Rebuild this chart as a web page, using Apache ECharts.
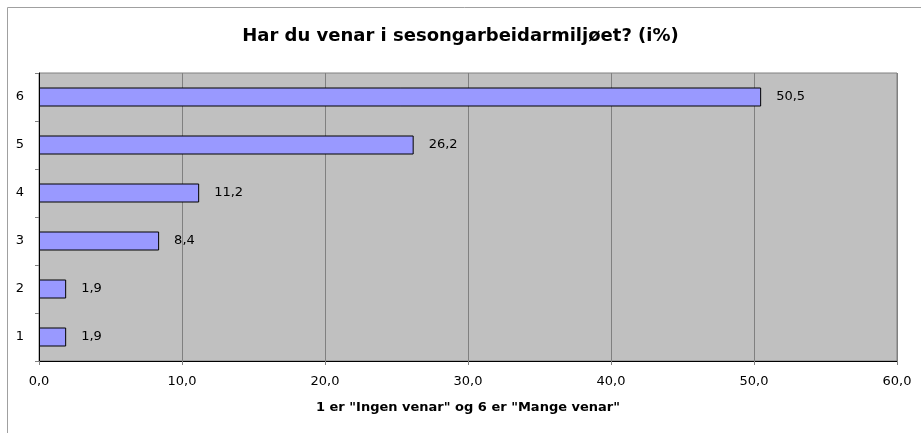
<!DOCTYPE html>
<html>
<head>
<meta charset="utf-8">
<script src="https://cdn.jsdelivr.net/npm/echarts@6/dist/echarts.min.js"></script>
<style>
  html, body { margin: 0; padding: 0; background: #fff; }
  #chart { width: 921px; height: 433px; }
</style>
</head>
<body>
<div id="chart"></div>
<script>
var categories = ['1', '2', '3', '4', '5', '6'];
var values = [1.9, 1.9, 8.4, 11.2, 26.2, 50.5];

var font = 'DejaVu Sans, Verdana, sans-serif';

function comma(v) {
  return v.toFixed(1).replace('.', ',');
}

var chart = echarts.init(document.getElementById('chart'));
var option = {
  animation: false,
  title: {
    text: 'Har du venar i sesongarbeidarmiljøet? (i%)',
    left: 'center',
    top: 22,
    textStyle: { fontFamily: font, fontSize: 18, fontWeight: 'bold', color: '#000' }
  },
  graphic: [{
    type: 'rect',
    shape: { x: 7.5, y: 7.5, width: 1000, height: 1000 },
    style: { fill: 'none', stroke: '#a0a0a0', lineWidth: 1 },
    z: -1
  }],
  grid: {
    left: 39, right: 24, top: 73, bottom: 72,
    show: true,
    backgroundColor: '#c0c0c0',
    borderColor: '#808080',
    borderWidth: 1
  },
  xAxis: {
    type: 'value',
    min: 0, max: 60, interval: 10,
    name: '1 er "Ingen venar" og 6 er "Mange venar"',
    nameLocation: 'middle',
    nameGap: 40,
    nameTextStyle: { fontFamily: font, fontSize: 13, fontWeight: 'bold', color: '#000' },
    axisLine: { show: true, lineStyle: { color: '#000', width: 1 } },
    axisTick: { show: true, length: 4, lineStyle: { color: '#808080' } },
    axisLabel: {
      fontFamily: font, fontSize: 13, color: '#000', margin: 14,
      formatter: function (v) { return comma(v); }
    },
    splitLine: { show: true, lineStyle: { color: '#808080', width: 1 } }
  },
  yAxis: {
    type: 'category',
    data: categories,
    axisLine: { show: true, lineStyle: { color: '#000', width: 1 } },
    axisTick: { show: true, length: 4, lineStyle: { color: '#808080' } },
    axisLabel: { fontFamily: font, fontSize: 13, color: '#000', margin: 15 },
    splitLine: { show: false }
  },
  series: [{
    type: 'bar',
    data: values,
    barWidth: 19,
    itemStyle: { color: '#9999ff', borderColor: '#000', borderWidth: 1 },
    label: {
      show: true,
      position: 'right',
      distance: 15,
      fontFamily: font, fontSize: 13, color: '#000',
      formatter: function (p) { return comma(p.value); }
    }
  }]
};
chart.setOption(option);
</script>
</body>
</html>
